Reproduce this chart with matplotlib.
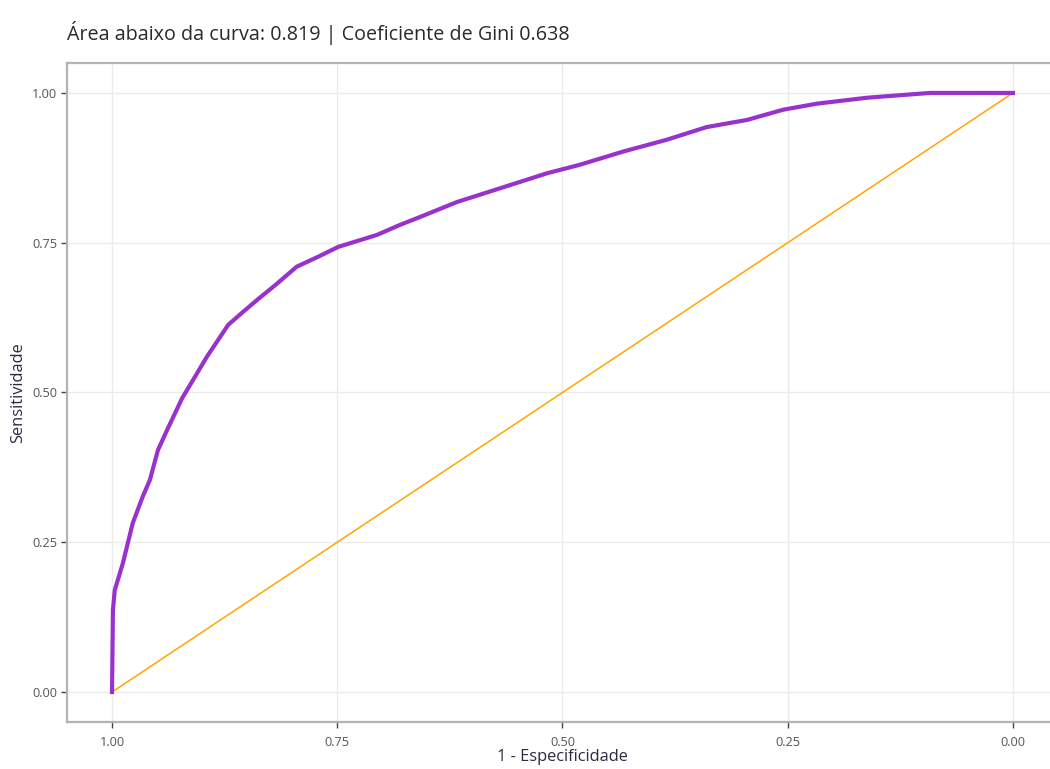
import matplotlib.pyplot as plt

plt.rcParams['font.family'] = ['Open Sans', 'DejaVu Sans']

# ROC curve points (specificity, sensitivity)
especificidade = [1.000, 0.999, 0.997, 0.988, 0.977, 0.966, 0.958, 0.949, 0.939,
                  0.922, 0.910, 0.895, 0.871, 0.855, 0.837, 0.819, 0.795, 0.772,
                  0.749, 0.706, 0.680, 0.658, 0.617, 0.569, 0.517, 0.481, 0.433,
                  0.384, 0.340, 0.295, 0.255, 0.218, 0.162, 0.092, 0.000]
sensitividade = [0.000, 0.137, 0.170, 0.215, 0.282, 0.326, 0.354, 0.404, 0.437,
                 0.491, 0.521, 0.559, 0.613, 0.634, 0.657, 0.679, 0.710, 0.726,
                 0.743, 0.763, 0.780, 0.793, 0.818, 0.841, 0.866, 0.880, 0.902,
                 0.922, 0.943, 0.955, 0.972, 0.982, 0.992, 1.000, 1.000]

auc = 0.819
gini = 0.638

ticks = [1.00, 0.75, 0.50, 0.25, 0.00]
tick_labels = ['1.00', '0.75', '0.50', '0.25', '0.00']

fig = plt.figure(figsize=(10.5, 7.69), dpi=100)
ax = fig.add_axes([0.0638, 0.0611, 0.9438, 0.857])

ax.plot([1, 0], [0, 1], color='#FFA500', lw=1.1, zorder=2)
ax.plot(especificidade, sensitividade, color='#9932CC', lw=3.0,
        solid_joinstyle='round', zorder=3)

ax.set_xlim(1.05, -0.05)
ax.set_ylim(-0.05, 1.05)
ax.set_xticks(ticks)
ax.set_xticklabels(tick_labels)
ax.set_yticks(ticks)
ax.set_yticklabels(tick_labels)

ax.grid(True, color='#ebebeb', lw=1.0)
ax.set_axisbelow(True)
for side in ['left', 'top', 'bottom']:
    ax.spines[side].set_color('#b3b3b3')
    ax.spines[side].set_linewidth(1.6)
ax.spines['right'].set_visible(False)

ax.tick_params(axis='both', length=4, width=1, color='#444444',
               labelcolor='#555555', labelsize=9.2)
ax.tick_params(axis='x', pad=6)
ax.tick_params(axis='y', pad=3)

ax.set_xlabel('1 - Especificidade', fontsize=11.8, color='#2a2a45', labelpad=0)
ax.set_ylabel('Sensitividade', fontsize=11.8, color='#2a2a45', labelpad=4)

fig.text(0.0638, 0.957, f'Área abaixo da curva: {auc} | Coeficiente de Gini {gini}',
         fontsize=14.2, color='#2a2a2a', ha='left', va='center')

fig.savefig('out.png', dpi=100)
